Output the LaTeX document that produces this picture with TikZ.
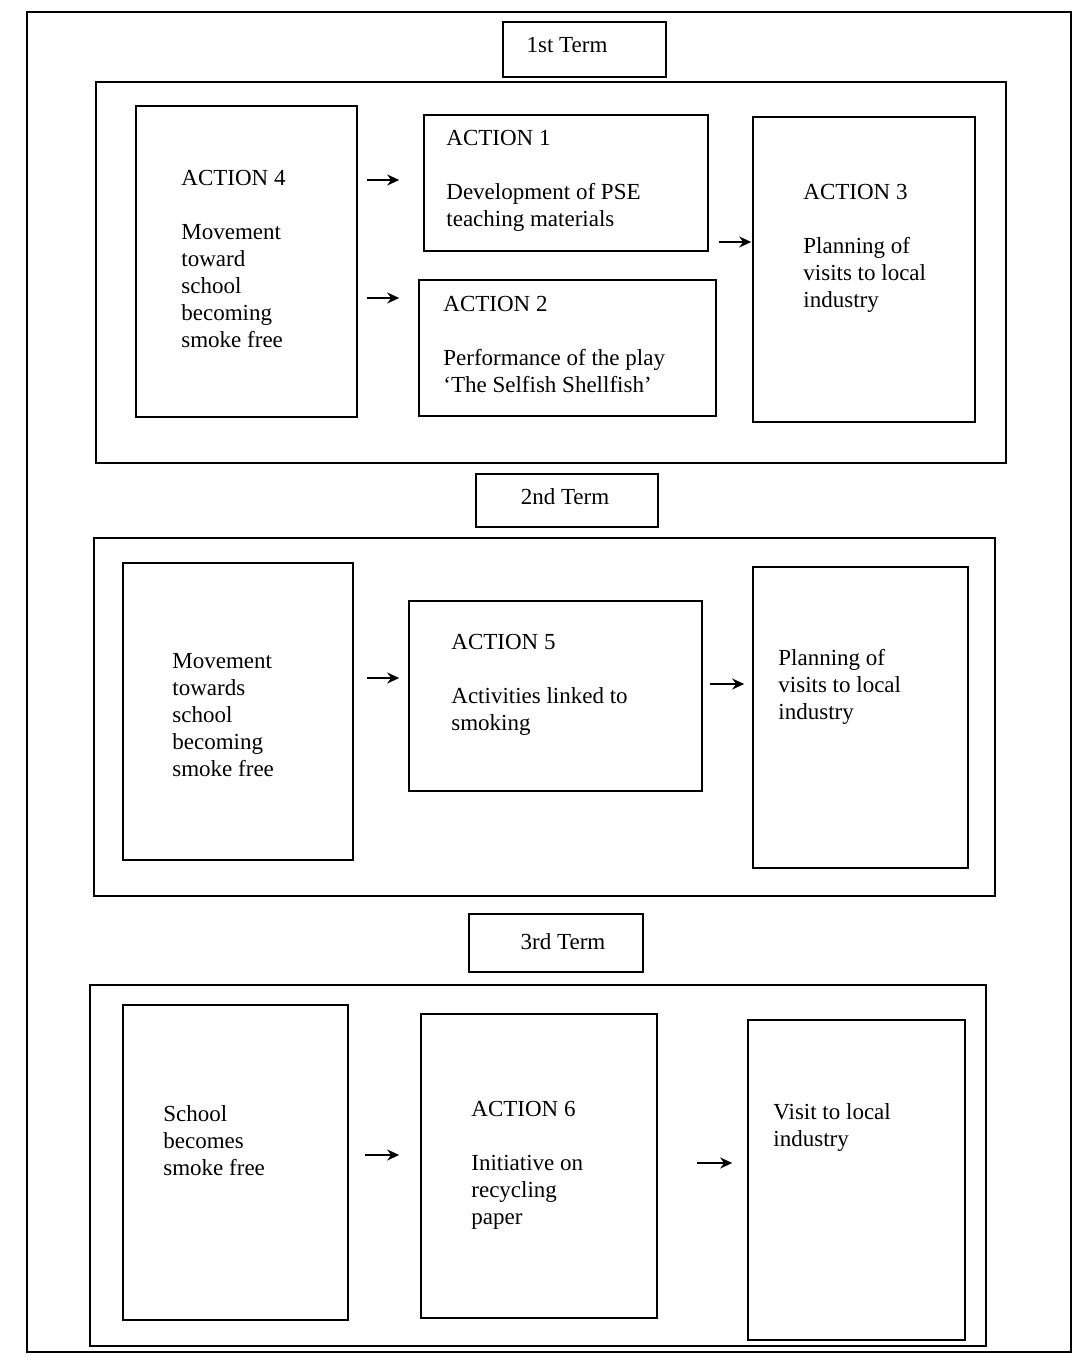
\documentclass[tikz,border=0pt]{standalone}
\usepackage{fontspec}
\setmainfont{Liberation Serif}
\usetikzlibrary{fit,arrows.meta}
\begin{document}
\begin{tikzpicture}[x=0.5pt,y=-0.5pt,
  frame/.style={draw, line width=0.8pt, inner sep=0pt},
  txt/.style={anchor=north west, align=left, inner sep=0pt, font=\fontsize{11.5}{13.5}\selectfont},
  termtxt/.style={inner sep=0pt, font=\fontsize{11.5}{13.5}\selectfont},
  arr/.style={-{Stealth[length=6pt,width=5.5pt]}, line width=1.2pt}]
\useasboundingbox (0,0) rectangle (1074,1359);
% outer frame
\draw[line width=0.9pt] (27,12) rectangle (1071,1352);

% ---------- 1st term ----------
\node[frame, fit={(503,22) (666,77)}] (t1) {};
\node[termtxt] (t1txt) at (567,45) {1st Term};
\node[frame, fit={(96,82) (1006,463)}] (f1) {};
\node[frame, fit={(136,106) (357,417)}] (a4) {};
\node[frame, fit={(424,115) (708,251)}] (a1) {};
\node[frame, fit={(419,280) (716,416)}] (a2) {};
\node[frame, fit={(753,117) (975,422)}] (a3) {};
\node[txt] (a4txt) at (181,170) {ACTION 4\\[13.5pt]Movement\\toward\\school\\becoming\\smoke free};
\node[txt] (a1txt) at (446,130) {ACTION 1\\[13.5pt]Development of PSE\\teaching materials};
\node[txt] (a2txt) at (443,296) {ACTION 2\\[13.5pt]Performance of the play\\`The Selfish Shellfish'};
\node[txt] (a3txt) at (803,184) {ACTION 3\\[13.5pt]Planning of\\visits to local\\industry};
\draw[arr, shorten <=4.5pt, shorten >=12pt] (a4.east |- 0,180) -- (a1.west |- 0,180);
\draw[arr, shorten <=4.5pt, shorten >=9.5pt] (a4.east |- 0,298) -- (a2.west |- 0,298);
\draw[arr, shorten <=5pt, shorten >=0.5pt] (a1.east |- 0,242) -- (a3.west |- 0,242);

% ---------- 2nd term ----------
\node[frame, fit={(476,474) (658,527)}] (t2) {};
\node[termtxt] (t2txt) at (565,497) {2nd Term};
\node[frame, fit={(94,538) (995,896)}] (f2) {};
\node[frame, fit={(123,563) (353,860)}] (b2l) {};
\node[frame, fit={(409,601) (702,791)}] (a5) {};
\node[frame, fit={(753,567) (968,868)}] (b2r) {};
\node[txt] (b2ltxt) at (172,653) {Movement\\towards\\school\\becoming\\smoke free};
\node[txt] (a5txt) at (451,634) {ACTION 5\\[13.5pt]Activities linked to\\smoking};
\node[txt] (b2rtxt) at (778,649) {Planning of\\visits to local\\industry};
\draw[arr, shorten <=6.5pt, shorten >=4.5pt] (b2l.east |- 0,678) -- (a5.west |- 0,678);
\draw[arr, shorten <=3.5pt, shorten >=4pt] (a5.east |- 0,684) -- (b2r.west |- 0,684);

% ---------- 3rd term ----------
\node[frame, fit={(469,914) (643,972)}] (t3) {};
\node[termtxt] (t3txt) at (563,942) {3rd Term};
\node[frame, fit={(90,985) (986,1346)}] (f3) {};
\node[frame, fit={(123,1005) (348,1320)}] (b3l) {};
\node[frame, fit={(421,1014) (657,1318)}] (a6) {};
\node[frame, fit={(748,1020) (965,1340)}] (b3r) {};
\node[txt] (b3ltxt) at (163,1105) {School\\becomes\\smoke free};
\node[txt] (a6txt) at (471,1101) {ACTION 6\\[13.5pt]Initiative on\\recycling\\paper};
\node[txt] (b3rtxt) at (773,1103) {Visit to local\\industry};
\draw[arr, shorten <=8pt, shorten >=10.5pt] (b3l.east |- 0,1155) -- (a6.west |- 0,1155);
\draw[arr, shorten <=19.5pt, shorten >=7.5pt] (a6.east |- 0,1163) -- (b3r.west |- 0,1163);
\end{tikzpicture}
\end{document}
